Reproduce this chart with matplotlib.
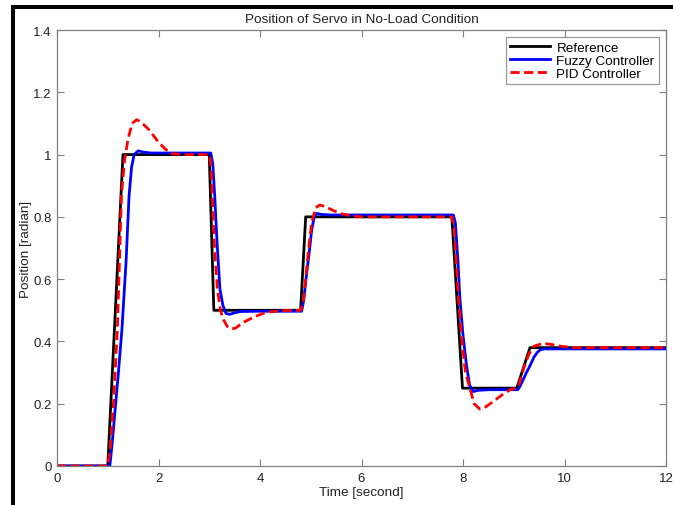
import matplotlib
matplotlib.use("Agg")
import matplotlib.pyplot as plt
from matplotlib.patches import Rectangle

# ---- data ----
ref_t = [0, 1.0, 1.3, 3.0, 3.09, 4.8, 4.9, 7.78, 7.99, 9.06, 9.32, 12]
ref_y = [0, 0, 1.0, 1.0, 0.5, 0.5, 0.8, 0.8, 0.25, 0.25, 0.38, 0.38]

fuzzy_t = [0, 1.04, 1.08, 1.14, 1.21, 1.28, 1.36, 1.42, 1.47, 1.52, 1.60, 1.70, 1.85, 2.2,
           3.03, 3.07, 3.11, 3.15, 3.21, 3.27, 3.33, 3.40, 3.50, 3.61, 4.0, 4.82,
           4.86, 4.92, 4.97, 5.02, 5.07, 5.12, 5.2, 5.4, 7.81, 7.85, 7.90, 7.94, 8.00,
           8.07, 8.13, 8.20, 8.30, 8.5, 9.08, 9.12, 9.18, 9.25, 9.32, 9.40, 9.47, 9.52,
           9.6, 12]
fuzzy_y = [0, 0, 0.06, 0.17, 0.30, 0.44, 0.654, 0.868, 0.96, 1.0, 1.012, 1.008, 1.005, 1.005,
           1.005, 0.97, 0.86, 0.729, 0.568, 0.515, 0.49, 0.487, 0.492, 0.496, 0.497, 0.497,
           0.53, 0.62, 0.686, 0.76, 0.80, 0.811, 0.808, 0.806, 0.806, 0.78, 0.66, 0.536, 0.42,
           0.322, 0.26, 0.239, 0.243, 0.245, 0.245, 0.255, 0.275, 0.30, 0.322, 0.35, 0.366, 0.373,
           0.376, 0.376]

pid_t = [0, 1.0, 1.05, 1.12, 1.19, 1.27, 1.33, 1.40, 1.48, 1.57, 1.65, 1.80, 2.0, 2.13, 2.26,
         2.5, 3.0, 3.03, 3.06, 3.094, 3.16, 3.22, 3.28, 3.36, 3.44, 3.52, 3.67, 3.9, 4.13,
         4.46, 4.8, 4.85, 4.90, 4.95, 5.02, 5.1, 5.18, 5.3, 5.45, 5.6, 5.81, 6.0, 7.78,
         7.82, 7.87, 7.91, 7.98, 8.05, 8.14, 8.22, 8.33, 8.45, 8.66, 8.8, 8.93, 9.05,
         9.10, 9.19, 9.3, 9.4, 9.58, 9.75, 9.95, 10.18, 12]
pid_y = [0, 0, 0.06, 0.22, 0.44, 0.87, 0.98, 1.05, 1.10, 1.112, 1.105, 1.082, 1.04, 1.018, 1.003,
         1.0, 1.0, 0.97, 0.87, 0.729, 0.568, 0.50, 0.47, 0.447, 0.44, 0.443, 0.461, 0.48, 0.494,
         0.499, 0.5, 0.52, 0.6, 0.686, 0.783, 0.83, 0.838, 0.832, 0.82, 0.81, 0.803, 0.8, 0.8,
         0.77, 0.65, 0.536, 0.40, 0.30, 0.247, 0.20, 0.183, 0.19, 0.215, 0.232, 0.245, 0.25,
         0.26, 0.311, 0.36, 0.385, 0.394, 0.39, 0.384, 0.38, 0.38]

xticks = [0, 2, 4, 6, 8, 10, 12]
yticks = [0, 0.2, 0.4, 0.6, 0.8, 1.0, 1.2, 1.4]
ytick_labels = ["0", "0.2", "0.4", "0.6", "0.8", "1", "1.2", "1.4"]

plt.rcParams['font.family'] = ['Liberation Sans', 'DejaVu Sans']

fig = plt.figure(figsize=(6.73, 5.06), dpi=100)
W, H = 673, 506
ax = fig.add_axes([57 / W, (H - 467) / H, (666 - 57) / W, (467 - 31) / H])

ax.plot(ref_t, ref_y, color='black', lw=2.0, label='Reference')
ax.plot(fuzzy_t, fuzzy_y, color='#0000ff', lw=2.0, label='Fuzzy Controller')
ax.plot(pid_t, pid_y, color='#ff0000', lw=2.0, linestyle=(0, (3.3, 1.6)), label='PID Controller')

ax.set_xlim(0, 12)
ax.set_ylim(0, 1.4)
ax.set_xticks(xticks)
ax.set_xticklabels([str(v) for v in xticks])
ax.set_yticks(yticks)
ax.set_yticklabels(ytick_labels)

gray = '#808080'
for s in ax.spines.values():
    s.set_color(gray)
    s.set_linewidth(0.9)
ax.tick_params(direction='in', length=5, width=0.8, color=gray, labelsize=9.5,
               labelcolor='#222222', top=True, right=True, pad=4)

ax.set_title('Position of Servo in No-Load Condition', fontsize=9.7, color='#222222', pad=6)
ax.set_xlabel('Time [second]', fontsize=9.7, color='#222222', labelpad=2)
ax.set_ylabel('Position [radian]', fontsize=9.7, color='#222222', labelpad=1)

leg = ax.legend(loc='upper right', fontsize=9.7, frameon=True, fancybox=False, shadow=False,
                handlelength=3.0, handletextpad=0.45, borderpad=0.3, labelspacing=0.05,
                borderaxespad=0.55)
leg.get_frame().set_edgecolor(gray)
leg.get_frame().set_linewidth(0.9)

# black frame remnants of the screenshot
fig.add_artist(Rectangle((11 / W, 0), 4 / W, (H - 6) / H, transform=fig.transFigure,
                         color='black', lw=0))
fig.add_artist(Rectangle((11 / W, (H - 9.5) / H), 1 - 11 / W, 3.5 / H, transform=fig.transFigure,
                         color='black', lw=0))

fig.savefig('out.png', dpi=100)
